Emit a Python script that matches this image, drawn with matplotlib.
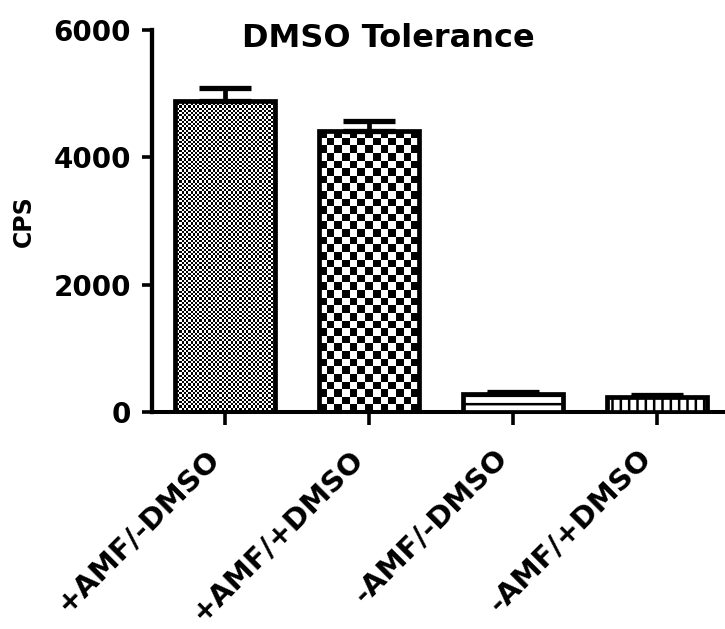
import numpy as np
import matplotlib
matplotlib.use("Agg")
import matplotlib.pyplot as plt

# data
groups = ["+AMF/-DMSO", "+AMF/+DMSO", "-AMF/-DMSO", "-AMF/+DMSO"]
cps = [4880, 4420, 280, 235]
sem = [210, 155, 30, 30]
yticks = [0, 2000, 4000, 6000]

plt.rcParams['font.family'] = ['DejaVu Sans']
plt.rcParams['font.weight'] = 'bold'
plt.rcParams['hatch.linewidth'] = 1.8
plt.rcParams['hatch.color'] = 'black'

fig = plt.figure(figsize=(7.25, 6.29), dpi=100)
ax = fig.add_axes([152/725, 1 - 412/629, 1 - 152/725, (412 - 30)/629])

x = np.arange(len(groups))
w = 0.69

# bars 1-2 get a checkerboard image, 3-4 plain hatches
faces = ['none', 'none', 'white', 'white']
hatches = [None, None, '--', '||']
bars = ax.bar(x, cps, width=w, color=faces, edgecolor='black', linewidth=3.4,
              hatch=hatches, zorder=3)

# only the upper error bar, prism style
ax.errorbar(x, cps, yerr=[np.zeros(len(sem)), sem], fmt='none', ecolor='black',
            elinewidth=3.4, capsize=19, capthick=3.8, zorder=2)

ax.set_xlim(-0.507, 573/144 - 0.507)
ax.set_ylim(0, 6000)
ax.set_yticks(yticks)
ax.set_xticks(x)
ax.set_xticklabels(groups, rotation=45, ha='right', va='bottom', rotation_mode='anchor')

fig.canvas.draw()

# checkerboards, sizes chosen per bar (columns across the bar)
checks = [45, 13]
for b, ncol in zip(bars[:2], checks):
    x0, y0 = b.get_x(), b.get_y()
    x1, y1 = x0 + b.get_width(), y0 + b.get_height()
    (px0, py0), (px1, py1) = ax.transData.transform([(x0, y0), (x1, y1)])
    nrow = int(round(ncol * (py1 - py0) / (px1 - px0)))
    ii, jj = np.indices((nrow, ncol))
    board = (ii + jj) % 2
    im = ax.imshow(board, cmap='gray', extent=(x0, x1, y0, y1), origin='lower',
                   aspect='auto', interpolation='nearest', zorder=1)
    im.set_clip_path(b)

ax.set_xlim(-0.507, 573/144 - 0.507)
ax.set_ylim(0, 6000)

for s in ['top', 'right']:
    ax.spines[s].set_visible(False)
ax.spines['left'].set_linewidth(3.1)
ax.spines['bottom'].set_linewidth(2.9)
ax.tick_params(axis='y', length=7, width=2.6, pad=8, labelsize=20)
ax.tick_params(axis='x', length=9, width=2.6, pad=28, labelsize=21)
for t in ax.get_yticklabels() + ax.get_xticklabels():
    t.set_fontweight('bold')

ax.set_ylabel('CPS', fontsize=17, fontweight='bold', labelpad=13)
fig.text(388/725, 1 - 47/629, 'DMSO Tolerance', ha='center', va='baseline',
         fontsize=23, fontweight='bold')

fig.savefig('out.png', dpi=100)
